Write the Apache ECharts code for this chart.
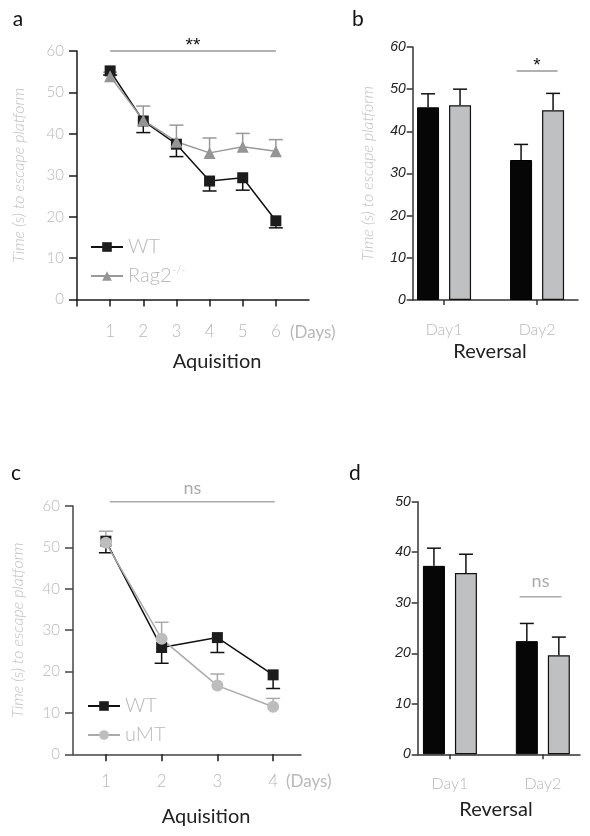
<!DOCTYPE html>
<html><head><meta charset="utf-8">
<script src="https://cdn.jsdelivr.net/npm/echarts@6/dist/echarts.min.js"></script>
<style>html,body{margin:0;padding:0;background:#fff}#c{width:590px;height:836px}</style>
</head><body><div id="c"></div>
<script>
// ---------- Data ----------
// Panel a: Aquisition (WT vs Rag2-/-)
const aDays = [1, 2, 3, 4, 5, 6];
const aTickLabels = [1, 2, 3, 4, 5, 6];
const aWT = [55.2, 43.1, 37.5, 28.6, 29.4, 19.0];
const aWTerr = [1.0, 2.8, 3.0, 2.4, 3.0, 1.7];
const aRag = [53.9, 43.3, 38.1, 35.4, 36.9, 35.8];
const aRagErr = [1.0, 3.4, 4.0, 3.6, 3.2, 2.8];
const aSig = { from: 1, to: 6, y: 60, text: '**' };

// Panel b: Reversal (WT vs Rag2-/-)
const bCategories = ['Day1', 'Day2'];
const bWT = [45.7, 33.2];
const bWTerr = [3.2, 3.7];
const bRag = [46.2, 45.0];
const bRagErr = [3.8, 4.0];
const bSig = { from: 1.78, to: 2.22, y: 54.3, text: '*' };

// Panel c: Aquisition (WT vs uMT)
const cDays = [1, 2, 3, 4];
const cWT = [51.5, 25.8, 28.2, 19.2];
const cWTerr = [2.8, 3.8, 3.6, 3.3];
const cUMT = [51.1, 27.9, 16.6, 11.5];
const cUMTerr = [2.8, 4.0, 2.8, 2.0];
const cSig = { from: 1.07, to: 4.03, y: 61.0, text: 'ns' };

// Panel d: Reversal (WT vs uMT)
const dCategories = ['Day1', 'Day2'];
const dWT = [37.3, 22.4];
const dWTerr = [3.5, 3.5];
const dUMT = [35.9, 19.6];
const dUMTerr = [3.7, 3.6];
const dSig = { from: 1.75, to: 2.2, y: 31.2, text: 'ns' };

const yTitle = 'Time (s) to escape platform';

// ---------- Styles ----------
const LIGHT = 'Lato';
const GRAY_TXT = '#b8b8b8';
const DARK = '#1a1a1a';
const BAR_W = 22, BAR_GAP = 10;

function lineErr(xi, yi, xs, ys, errs, dir, color) {
  return {
    type: 'custom', xAxisIndex: xi, yAxisIndex: yi, z: 1, silent: true,
    data: xs.map((x, i) => [x, ys[i], errs[i]]),
    renderItem(p, api) {
      const x = api.value(0), y = api.value(1), e = api.value(2);
      const p0 = api.coord([x, y]), p1 = api.coord([x, y + dir * e]);
      const cap = 7;
      return { type: 'group', children: [
        { type: 'line', shape: { x1: p0[0], y1: p0[1], x2: p1[0], y2: p1[1] }, style: { stroke: color, lineWidth: 1.5 } },
        { type: 'line', shape: { x1: p1[0] - cap, y1: p1[1], x2: p1[0] + cap, y2: p1[1] }, style: { stroke: color, lineWidth: 1.5 } }
      ]};
    }
  };
}
function barErr(xi, yi, ys, errs, side) {
  return {
    type: 'custom', xAxisIndex: xi, yAxisIndex: yi, z: 1, silent: true,
    data: ys.map((y, i) => [i + 1, y, errs[i]]),
    renderItem(p, api) {
      const x = api.value(0), y = api.value(1), e = api.value(2);
      const off = side * (BAR_W + BAR_GAP) / 2;
      const p0 = api.coord([x, y]), p1 = api.coord([x, y + e]);
      const cx = p0[0] + off, cap = 7;
      return { type: 'group', children: [
        { type: 'line', shape: { x1: cx, y1: p0[1], x2: cx, y2: p1[1] }, style: { stroke: '#111', lineWidth: 1.5 } },
        { type: 'line', shape: { x1: cx - cap, y1: p1[1], x2: cx + cap, y2: p1[1] }, style: { stroke: '#111', lineWidth: 1.5 } }
      ]};
    }
  };
}
function sigSeries(xi, yi, sig, color, txtColor, font, fontSize, lift) {
  return {
    type: 'custom', xAxisIndex: xi, yAxisIndex: yi, z: 3, silent: true,
    data: [[sig.from, sig.to, sig.y]],
    renderItem(p, api) {
      const a = api.coord([api.value(0), api.value(2)]);
      const b = api.coord([api.value(1), api.value(2)]);
      return { type: 'group', children: [
        { type: 'line', shape: { x1: a[0], y1: a[1], x2: b[0], y2: b[1] }, style: { stroke: color, lineWidth: 1.5 } },
        { type: 'text', x: (a[0] + b[0]) / 2, y: a[1] - lift,
          style: { text: sig.text, fill: txtColor, font: fontSize + 'px ' + font, align: 'center', verticalAlign: 'bottom' } }
      ]};
    }
  };
}

const lineYAxis = (gi, axisColor) => ({
  gridIndex: gi, type: 'value', min: 0, max: 60, interval: 10,
  name: yTitle, nameLocation: 'middle', nameGap: 48,
  nameTextStyle: { fontFamily: LIGHT, fontWeight: 300, fontStyle: 'italic', fontSize: 16, color: '#c0c0c0' },
  axisLine: { show: true, lineStyle: { color: axisColor, width: 1.5 } },
  axisTick: { show: true, length: 8, lineStyle: { color: axisColor, width: 1.5 } },
  axisLabel: { margin: 13, fontFamily: LIGHT, fontWeight: 300, fontSize: 15, color: GRAY_TXT },
  splitLine: { show: false }
});
const barYAxis = (gi, max, withTitle) => ({
  gridIndex: gi, type: 'value', min: 0, max: max, interval: 10,
  name: withTitle ? yTitle : '', nameLocation: 'middle', nameGap: 37,
  nameTextStyle: { fontFamily: LIGHT, fontWeight: 300, fontStyle: 'italic', fontSize: 16, color: '#c0c0c0' },
  axisLine: { show: true, lineStyle: { color: '#333', width: 1.5 } },
  axisTick: { show: true, length: 6, lineStyle: { color: '#333', width: 1.5 } },
  axisLabel: { margin: 7, fontFamily: 'Liberation Sans', fontStyle: 'italic', fontSize: 14, color: '#222' },
  splitLine: { show: false }
});
const barXAxis = (gi, min, max, cats) => ({
  gridIndex: gi, type: 'value', min: min, max: max,
  axisLine: { show: true, onZero: false, lineStyle: { color: '#333', width: 1.5 } },
  axisTick: { show: true, length: 5, customValues: cats.map((c, i) => i + 1), lineStyle: { color: '#333', width: 1.5 } },
  axisLabel: { margin: 22, customValues: cats.map((c, i) => i + 1), formatter: v => cats[Math.round(v) - 1] || '',
    fontFamily: LIGHT, fontWeight: 300, fontSize: 16, color: GRAY_TXT },
  splitLine: { show: false }
});

const legendText = {
  fontFamily: LIGHT, fontWeight: 300, fontSize: 20, color: GRAY_TXT, lineHeight: 22,
  rich: { sup: { fontFamily: LIGHT, fontWeight: 300, fontSize: 11, color: GRAY_TXT, verticalAlign: 'top', lineHeight: 12, padding: [0, 0, 10, 1] } }
};

const titleTxt = (x, y, text, size, color, align) => ({
  type: 'text', x: x, y: y,
  style: { text: text, fill: color, font: size + 'px ' + LIGHT, align: align || 'center', verticalAlign: 'middle' }
});

const option = {
  animation: false,
  backgroundColor: '#fff',
  grid: [
    { left: 77, top: 51, width: 232, height: 248.5 },
    { left: 412.7, top: 47, width: 165.3, height: 253 },
    { left: 73, top: 506, width: 228, height: 248.3 },
    { left: 417.7, top: 501.7, width: 162.3, height: 252.6 }
  ],
  xAxis: [
    { gridIndex: 0, type: 'value', min: 0, max: 7,
      axisLine: { show: true, onZero: false, lineStyle: { color: DARK, width: 1.5 } },
      axisTick: { show: true, length: 7, customValues: [0].concat(aDays), lineStyle: { color: DARK, width: 1.5 } },
      axisLabel: { margin: 24, customValues: aDays, formatter: v => String(aTickLabels[aDays.indexOf(v)]),
        fontFamily: LIGHT, fontWeight: 300, fontSize: 17, color: GRAY_TXT },
      splitLine: { show: false } },
    barXAxis(1, 0.663, 2.44, bCategories),
    { gridIndex: 2, type: 'value', min: 0.41, max: 4.5,
      axisLine: { show: true, onZero: false, lineStyle: { color: '#444', width: 1.5 } },
      axisTick: { show: true, length: 7, customValues: cDays, lineStyle: { color: DARK, width: 1.5 } },
      axisLabel: { margin: 19, customValues: cDays, formatter: v => String(v),
        fontFamily: LIGHT, fontWeight: 300, fontSize: 17, color: GRAY_TXT },
      splitLine: { show: false } },
    barXAxis(3, 0.653, 2.40, dCategories)
  ],
  yAxis: [
    Object.assign(lineYAxis(0, DARK), { nameGap: 50 }),
    barYAxis(1, 60, true),
    Object.assign(lineYAxis(2, '#444'), { nameGap: 47 }),
    barYAxis(3, 50, false)
  ],
  legend: [
    { data: ['WT', 'Rag2-/-'], left: 85, top: 231, orient: 'vertical', itemWidth: 32, itemHeight: 12, itemGap: 7,
      textStyle: legendText, formatter: n => n === 'Rag2-/-' ? 'Rag2{sup|-/-}' : n, selectedMode: false },
    { data: ['WT', 'uMT'], left: 82, top: 690, orient: 'vertical', itemWidth: 32, itemHeight: 12, itemGap: 7,
      textStyle: legendText, selectedMode: false }
  ],
  series: [
    // panel a
    lineErr(0, 0, aDays, aWT, aWTerr, -1, '#111'),
    lineErr(0, 0, aDays, aRag, aRagErr, 1, '#999'),
    { name: 'WT', type: 'line', xAxisIndex: 0, yAxisIndex: 0, z: 2, data: aDays.map((d, i) => [d, aWT[i]]),
      symbol: 'rect', symbolSize: 11, lineStyle: { color: '#111', width: 1.5 }, itemStyle: { color: '#1c1c1c' } },
    { name: 'Rag2-/-', type: 'line', xAxisIndex: 0, yAxisIndex: 0, z: 2, data: aDays.map((d, i) => [d, aRag[i]]),
      symbol: 'triangle', symbolSize: 12, lineStyle: { color: '#999', width: 1.5 }, itemStyle: { color: '#959595' } },
    sigSeries(0, 0, aSig, '#999', '#111', 'Liberation Sans', 19, -4),
    // panel b
    { name: 'bWT', type: 'bar', xAxisIndex: 1, yAxisIndex: 1, barWidth: BAR_W, barGap: (BAR_GAP / BAR_W * 100) + '%',
      data: bWT.map((v, i) => [i + 1, v]), itemStyle: { color: '#060606', borderColor: '#000', borderWidth: 1 } },
    { name: 'bRag', type: 'bar', xAxisIndex: 1, yAxisIndex: 1, barWidth: BAR_W,
      data: bRag.map((v, i) => [i + 1, v]), itemStyle: { color: '#bfc0c2', borderColor: '#111', borderWidth: 1.2 } },
    barErr(1, 1, bWT, bWTerr, -1),
    barErr(1, 1, bRag, bRagErr, 1),
    sigSeries(1, 1, bSig, '#999', '#111', 'Liberation Sans', 19, -4),
    // panel c
    lineErr(2, 2, cDays, cWT, cWTerr, -1, '#111'),
    lineErr(2, 2, cDays, cUMT, cUMTerr, 1, '#aaa'),
    { name: 'WT', type: 'line', xAxisIndex: 2, yAxisIndex: 2, z: 2, data: cDays.map((d, i) => [d, cWT[i]]),
      symbol: 'rect', symbolSize: 11, lineStyle: { color: '#111', width: 1.5 }, itemStyle: { color: '#1c1c1c' } },
    { name: 'uMT', type: 'line', xAxisIndex: 2, yAxisIndex: 2, z: 2, data: cDays.map((d, i) => [d, cUMT[i]]),
      symbol: 'circle', symbolSize: 12, lineStyle: { color: '#aaa', width: 1.5 }, itemStyle: { color: '#bdbdbd' } },
    sigSeries(2, 2, cSig, '#aaa', '#aaa', LIGHT, 18, 5),
    // panel d
    { name: 'dWT', type: 'bar', xAxisIndex: 3, yAxisIndex: 3, barWidth: BAR_W, barGap: (BAR_GAP / BAR_W * 100) + '%',
      data: dWT.map((v, i) => [i + 1, v]), itemStyle: { color: '#060606', borderColor: '#000', borderWidth: 1 } },
    { name: 'dUMT', type: 'bar', xAxisIndex: 3, yAxisIndex: 3, barWidth: BAR_W,
      data: dUMT.map((v, i) => [i + 1, v]), itemStyle: { color: '#bfc0c2', borderColor: '#111', borderWidth: 1.2 } },
    barErr(3, 3, dWT, dWTerr, -1),
    barErr(3, 3, dUMT, dUMTerr, 1),
    sigSeries(3, 3, dSig, '#aaa', '#aaa', LIGHT, 18, 6)
  ],
  graphic: [
    titleTxt(18, 19, 'a', 21, '#111'),
    titleTxt(358, 19, 'b', 21, '#111'),
    titleTxt(16, 473, 'c', 21, '#111'),
    titleTxt(355, 473, 'd', 21, '#111'),
    titleTxt(217, 362, 'Aquisition', 20, '#222'),
    titleTxt(206, 817, 'Aquisition', 20, '#222'),
    titleTxt(490, 352, 'Reversal', 20, '#222'),
    titleTxt(496, 810, 'Reversal', 20, '#222'),
    titleTxt(290, 333, '(Days)', 17, GRAY_TXT, 'left'),
    titleTxt(286, 782, '(Days)', 17, GRAY_TXT, 'left')
  ]
};
const chart = echarts.init(document.getElementById('c'), null, { renderer: 'canvas' });
chart.setOption(option);
</script></body></html>
